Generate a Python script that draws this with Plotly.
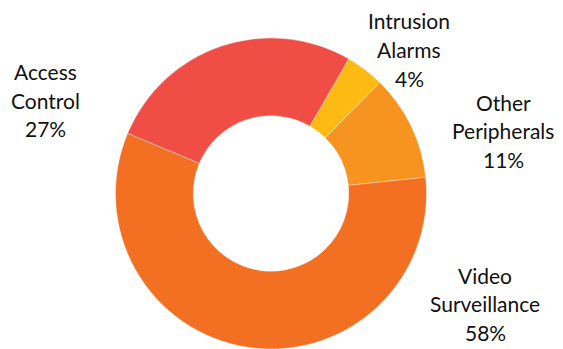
import plotly.graph_objects as go

categories = ["Intrusion Alarms", "Other Peripherals", "Video Surveillance", "Access Control"]
values = [4, 11, 58, 27]
colors = ["#FDBA13", "#F7931F", "#F37022", "#F04D44"]
label_lines = [["Intrusion", "Alarms", "4%"],
               ["Other", "Peripherals", "11%"],
               ["Video", "Surveillance", "58%"],
               ["Access", "Control", "27%"]]
# label centers in pixels (x, y of first line), line step
label_pos = [(409, 21), (503, 102), (485, 275), (45, 71.5)]
line_step = 28.5

W, H = 563, 349
fig = go.Figure(go.Pie(
    labels=categories, values=values, sort=False, direction="clockwise",
    rotation=30, hole=0.5, textinfo="none", hoverinfo="label+percent",
    marker=dict(colors=colors, line=dict(color="rgba(255,255,255,0.6)", width=0.6)),
    domain=dict(x=[115 / W, 427 / W], y=[0, 311 / H]),
    showlegend=False,
))

annotations = []
for lines, (px, py) in zip(label_lines, label_pos):
    for i, t in enumerate(lines):
        annotations.append(dict(
            text=t, x=px / W, y=1 - (py + i * line_step) / H,
            xref="paper", yref="paper", xanchor="center", yanchor="middle",
            showarrow=False, font=dict(family="Lato", size=21, color="#111111"),
        ))

fig.update_layout(
    width=W, height=H, margin=dict(l=0, r=0, t=0, b=0),
    paper_bgcolor="white", plot_bgcolor="white",
    annotations=annotations,
)
fig.write_html("out.html")
